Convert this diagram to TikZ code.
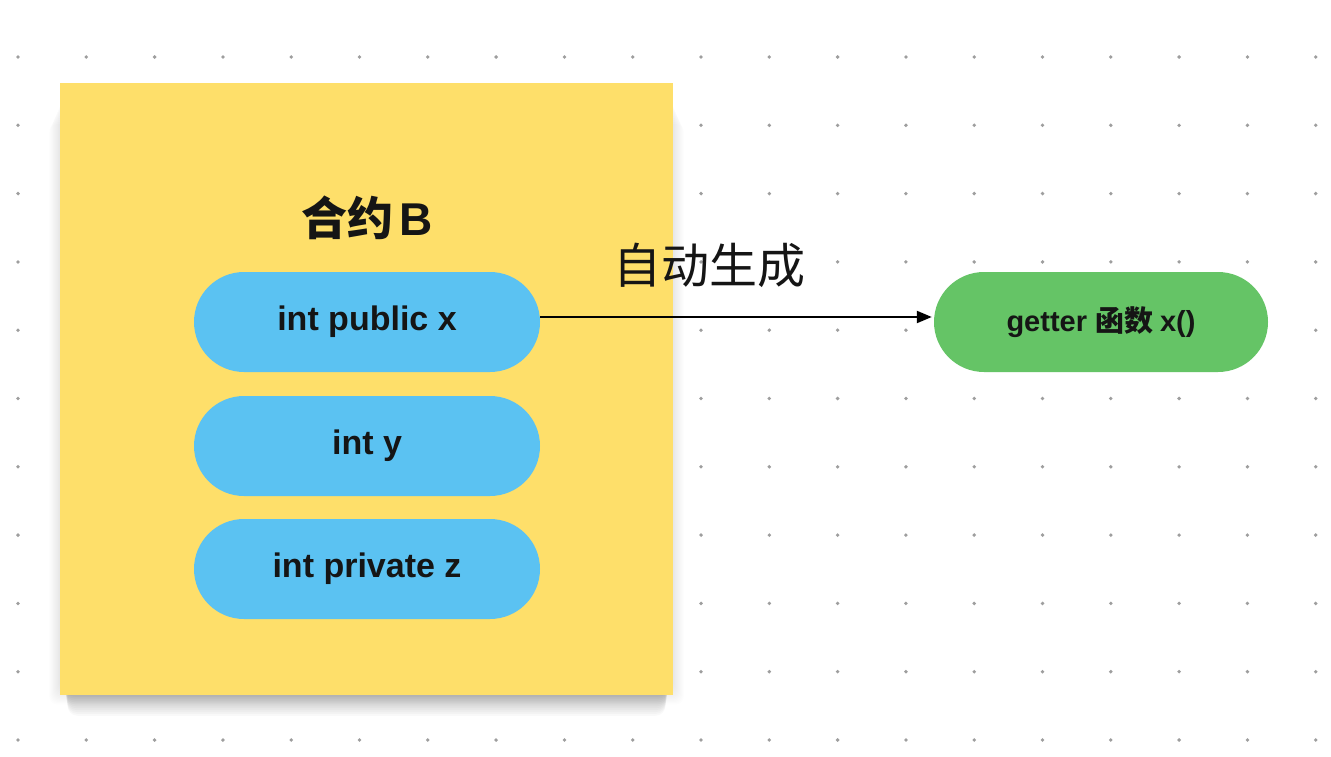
\documentclass[tikz,border=0pt]{standalone}
\usepackage{fontspec}
\setmainfont{Noto Sans CJK SC}
\newfontfamily\latinfont{Liberation Sans}
\usetikzlibrary{arrows.meta,shapes.misc}
\definecolor{boxyellow}{HTML}{FEDF6A}
\definecolor{pillblue}{HTML}{5BC2F2}
\definecolor{pillgreen}{HTML}{65C466}
\definecolor{dotgray}{HTML}{9E9E9E}
\definecolor{inktext}{HTML}{151515}
\tikzset{
  pill/.style={rounded rectangle, minimum width=346pt, minimum height=100pt, fill=pillblue, font=\latinfont\fontsize{34pt}{38pt}\selectfont\bfseries, text=inktext, inner sep=0pt},
}
\begin{document}
\begin{tikzpicture}[x=1pt,y=-1pt]
\useasboundingbox (0,0) rectangle (1331,757);
\fill[white] (0,0) rectangle (1331,757);
% dot grid
\foreach \i in {0,...,19}{
  \foreach \j in {0,...,10}{
    \fill[dotgray] ({18+68.3*\i},{57+68.3*\j}) circle (1.9pt);
  }
}
% soft shadow of the yellow box
\foreach \k in {1,...,12}{
  \fill[black, opacity=0.007, rounded corners=8pt] ({60-\k*0.9},{100+\k*2}) rectangle ({673+\k*0.9},{690+\k*1.2});
}
\foreach \k in {1,...,12}{
  \fill[black, opacity=0.022, rounded corners=10pt] ({64+\k*0.3},{670}) rectangle ({669-\k*0.3},{693+\k*1.9});
}
% yellow contract box
\node[fill=boxyellow, minimum width=613pt, minimum height=612pt, inner sep=0pt] (box) at (366.5,389) {};
\node[font=\fontsize{46pt}{50pt}\selectfont\bfseries, text=inktext] (title) at (367,218) {合约\hspace{6pt}{\latinfont B}};
\node[pill] (px) at (367,322) {int public x};
\node[pill] (py) at (367,446) {int y};
\node[pill] (pz) at (367,569) {int private z};
\node[pill, fill=pillgreen, minimum width=334pt, font=\fontsize{29pt}{32pt}\selectfont\bfseries] (getter) at (1101,322) {{\latinfont getter}\hspace{8pt}函数\hspace{7pt}{\latinfont x()}};
\draw[line width=2.2pt, -{Triangle[length=15pt,width=12pt]}, shorten >=2pt] (px.east |- 0,317) -- (getter.west |- 0,317);
\node[font=\fontsize{48pt}{52pt}\selectfont, text=inktext] (label) at (709,265) {自动生成};
\end{tikzpicture}
\end{document}
